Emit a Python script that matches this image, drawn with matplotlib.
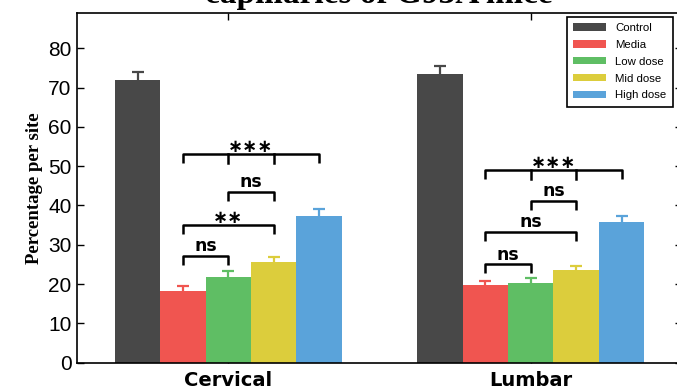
import numpy as np
import matplotlib
matplotlib.use("Agg")
import matplotlib.pyplot as plt

# data
sites = ["Cervical", "Lumbar"]
groups = ["Control", "Media", "Low dose", "Mid dose", "High dose"]
colors = ["#484848", "#F05550", "#5FBE64", "#DCCD3C", "#5AA3DA"]

control = [72.0, 73.5]
media = [18.3, 19.7]
low_dose = [21.9, 20.3]
mid_dose = [25.6, 23.6]
high_dose = [37.4, 35.7]
errors = [
    [1.9, 1.9],   # control
    [1.3, 1.1],   # media
    [1.3, 1.2],   # low
    [1.3, 1.1],   # mid
    [1.8, 1.6],   # high
]

# significance brackets: (site, first bar, last bar, height, label, inner ticks)
brackets = [
    (0, 1, 4, 53.1, "∗∗∗", [2, 3]),
    (0, 2, 3, 43.5, "ns", []),
    (0, 1, 3, 35.0, "∗∗", []),
    (0, 1, 2, 27.1, "ns", []),
    (1, 1, 4, 49.0, "∗∗∗", [2, 3]),
    (1, 2, 3, 41.1, "ns", []),
    (1, 1, 3, 33.2, "ns", []),
    (1, 1, 2, 25.0, "ns", []),
]

values = [control, media, low_dose, mid_dose, high_dose]

fig = plt.figure(figsize=(6.77, 3.90), dpi=100)
ax = fig.add_axes([77 / 677, 27.4 / 390, 605 / 677, 349.6 / 390])

x = np.arange(len(sites))
width = 0.15
offsets = (np.arange(len(groups)) - 2) * width

for i, g in enumerate(groups):
    ax.bar(x + offsets[i], values[i], width, color=colors[i], label=g, zorder=2)
    ax.errorbar(x + offsets[i], values[i], yerr=errors[i], fmt="none",
                ecolor=colors[i], elinewidth=1.6, capsize=4, capthick=1.6, zorder=3)

drop = 2.3
for site, a, b, h, lab, inner in brackets:
    xa = x[site] + offsets[a]
    xb = x[site] + offsets[b]
    ax.plot([xa, xa, xb, xb], [h - drop, h, h, h - drop], color="black", lw=1.8,
            solid_capstyle="butt", zorder=4)
    for k in inner:
        xk = x[site] + offsets[k]
        ax.plot([xk, xk], [h - drop, h], color="black", lw=1.8, zorder=4)
    if "ns" in lab:
        ax.text((xa + xb) / 2, h + 0.2, lab, ha="center", va="bottom",
                fontsize=12.5, fontweight="bold", family="DejaVu Sans")
    else:
        ax.text((xa + xb) / 2, h - 0.6, lab, ha="center", va="bottom",
                fontsize=13, fontweight="bold", family="DejaVu Sans")

ax.set_xlim(-0.5, 1.5)
ax.set_ylim(0, 89)
ax.set_yticks(np.arange(0, 81, 10))
ax.set_xticks(x)
ax.set_xticklabels(sites, fontsize=14, fontweight="bold", family="DejaVu Sans")
for t in ax.get_yticklabels():
    t.set_fontsize(15)
    t.set_family("Liberation Sans")
ax.tick_params(direction="in", top=True, right=True, length=5, width=1)
ax.tick_params(axis="x", pad=6)
ax.tick_params(axis="y", pad=4)
for s in ax.spines.values():
    s.set_linewidth(1.2)

ax.set_ylabel("Percentage per site", fontsize=13.5, fontweight="bold",
              family="Liberation Serif", labelpad=4)

leg = ax.legend(loc="upper right", bbox_to_anchor=(0.985, 0.989), borderaxespad=0,
                prop={"family": "Liberation Sans", "size": 8.2},
                fancybox=False, edgecolor="black", framealpha=1,
                handlelength=2.9, handleheight=0.6, labelspacing=0.6,
                borderpad=0.55, handletextpad=0.8)
leg.get_frame().set_linewidth(1.2)

fig.text(379 / 677, 1 - 3.5 / 390, "capillaries of G93A mice", ha="center",
         va="baseline", fontsize=24, fontweight="bold", family="Liberation Serif")

fig.savefig("out.png", dpi=100)
